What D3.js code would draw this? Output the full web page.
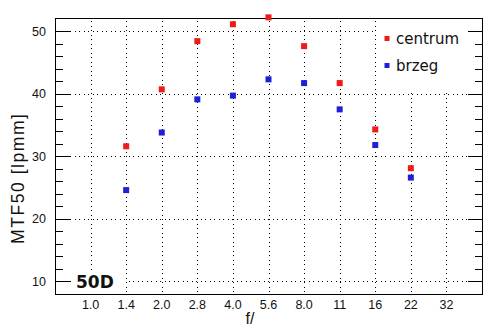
<!DOCTYPE html>
<html>
<head>
<meta charset="utf-8">
<script src="https://cdn.jsdelivr.net/npm/d3@7"></script>
<style>
  html, body { margin: 0; padding: 0; background: #fff; }
  svg { display: block; }
</style>
</head>
<body>
<div id="chart"></div>
<script>
// f-number stops on the horizontal axis
const apertures = ["1.0", "1.4", "2.0", "2.8", "4.0", "5.6", "8.0", "11", "16", "22", "32"];
// MTF50 readings, lp/mm
const centrumStops = ["1.4", "2.0", "2.8", "4.0", "5.6", "8.0", "11", "16", "22"];
const centrumValues = [31.6, 40.7, 48.4, 51.1, 52.2, 47.6, 41.7, 34.3, 28.1];
const brzegStops = ["1.4", "2.0", "2.8", "4.0", "5.6", "8.0", "11", "16", "22"];
const brzegValues = [24.6, 33.8, 39.1, 39.7, 42.3, 41.7, 37.5, 31.8, 26.6];
const yMajorTicks = [10, 20, 30, 40, 50];
const yMinorTicks = [12, 14, 16, 18, 22, 24, 26, 28, 32, 34, 36, 38, 42, 44, 46, 48];
const seriesNames = ["centrum", "brzeg"];
const seriesColors = ["#ee1b1b", "#1f1fd6"];

const W = 494, H = 331;
const L = 55, R = 482, T = 18, B = 294;

const svg = d3.select("#chart").append("svg")
  .attr("width", W).attr("height", H);

svg.append("rect").attr("width", W).attr("height", H).attr("fill", "#fff");

const x = d3.scalePoint().domain(apertures).range([L, R]).padding(1);
const y = d3.scaleLinear().domain([8, 52.1]).range([B, T]);

const labelFont = "'Liberation Sans', Arial, sans-serif";
const grid = svg.append("g").attr("stroke", "#000").attr("stroke-width", 1)
  .attr("stroke-dasharray", "1,3.5").attr("shape-rendering", "crispEdges");

// vertical dotted grid at every stop
grid.selectAll("line.v").data(apertures).join("line")
  .attr("class", "v")
  .attr("x1", d => Math.round(x(d)) + 0.5).attr("x2", d => Math.round(x(d)) + 0.5)
  .attr("y1", T + 3).attr("y2", B);

// horizontal dotted grid at major values
grid.selectAll("line.h").data(yMajorTicks).join("line")
  .attr("class", "h")
  .attr("x1", L + 15).attr("x2", R - 14)
  .attr("y1", d => Math.round(y(d)) + 0.5).attr("y2", d => Math.round(y(d)) + 0.5);

// white patches behind the legend and the camera label
svg.append("rect").attr("x", 376).attr("y", T + 1).attr("width", R - 376 - 1).attr("height", 73).attr("fill", "#fff");
svg.append("rect").attr("x", L + 16).attr("y", 270).attr("width", 54).attr("height", B - 270 - 1).attr("fill", "#fff");

// y tick marks on both sides
const ticks = svg.append("g").attr("stroke", "#000").attr("shape-rendering", "crispEdges");
ticks.selectAll("line.ml").data(yMajorTicks).join("line")
  .attr("x1", L).attr("x2", L + 15)
  .attr("y1", d => Math.round(y(d)) + 0.5).attr("y2", d => Math.round(y(d)) + 0.5);
ticks.selectAll("line.mr").data(yMajorTicks).join("line")
  .attr("x1", R - 14).attr("x2", R)
  .attr("y1", d => Math.round(y(d)) + 0.5).attr("y2", d => Math.round(y(d)) + 0.5);
ticks.selectAll("line.nl").data(yMinorTicks).join("line")
  .attr("x1", L).attr("x2", L + 8)
  .attr("y1", d => Math.round(y(d)) + 0.5).attr("y2", d => Math.round(y(d)) + 0.5);
ticks.selectAll("line.nr").data(yMinorTicks).join("line")
  .attr("x1", R - 7).attr("x2", R)
  .attr("y1", d => Math.round(y(d)) + 0.5).attr("y2", d => Math.round(y(d)) + 0.5);

// frame
svg.append("rect").attr("x", L + 0.5).attr("y", T + 0.5)
  .attr("width", R - L).attr("height", B - T)
  .attr("fill", "none").attr("stroke", "#000").attr("shape-rendering", "crispEdges");

// y tick labels
svg.append("g").selectAll("text").data(yMajorTicks).join("text")
  .attr("x", 46).attr("y", d => y(d) + 4.5)
  .attr("text-anchor", "end")
  .attr("font-family", labelFont).attr("font-size", 12.5).attr("fill", "#111")
  .text(d => d);

// x tick labels
svg.append("g").selectAll("text").data(apertures).join("text")
  .attr("x", d => x(d)).attr("y", 309)
  .attr("text-anchor", "middle")
  .attr("font-family", labelFont).attr("font-size", 12.5).attr("fill", "#111")
  .text(d => d);

// axis titles
svg.append("text")
  .attr("transform", "translate(24,179) rotate(-90)")
  .attr("text-anchor", "middle")
  .attr("font-family", labelFont).attr("font-size", 17.5).attr("fill", "#111")
  .attr("textLength", 130).attr("lengthAdjust", "spacing")
  .text("MTF50 [lpmm]");
svg.append("text")
  .attr("x", 250).attr("y", 324)
  .attr("text-anchor", "middle")
  .attr("font-family", labelFont).attr("font-size", 16).attr("fill", "#111")
  .text("f/");

// camera label
svg.append("text")
  .attr("x", 76).attr("y", 288)
  .attr("font-family", "'DejaVu Sans', sans-serif").attr("font-weight", "bold")
  .attr("font-size", 17).attr("fill", "#111")
  .text("50D");

// data markers
const series = [
  { name: seriesNames[0], color: seriesColors[0], stops: centrumStops, values: centrumValues },
  { name: seriesNames[1], color: seriesColors[1], stops: brzegStops, values: brzegValues }
];
const m = 6;
series.forEach(s => {
  svg.append("g").selectAll("rect").data(s.values).join("rect")
    .attr("x", (d, i) => x(s.stops[i]) - m / 2)
    .attr("y", d => y(d) - m / 2)
    .attr("width", m).attr("height", m)
    .attr("fill", s.color);
});

// legend
const lg = svg.append("g");
series.forEach((s, i) => {
  const cy = 38.5 + i * 27;
  lg.append("rect").attr("x", 384.5).attr("y", cy - 2.5).attr("width", 5).attr("height", 5).attr("fill", s.color);
  lg.append("text").attr("x", 396).attr("y", cy + 5.5)
    .attr("font-family", "'DejaVu Sans', sans-serif").attr("font-size", 15).attr("fill", "#111")
    .text(s.name);
});
</script>
</body>
</html>
